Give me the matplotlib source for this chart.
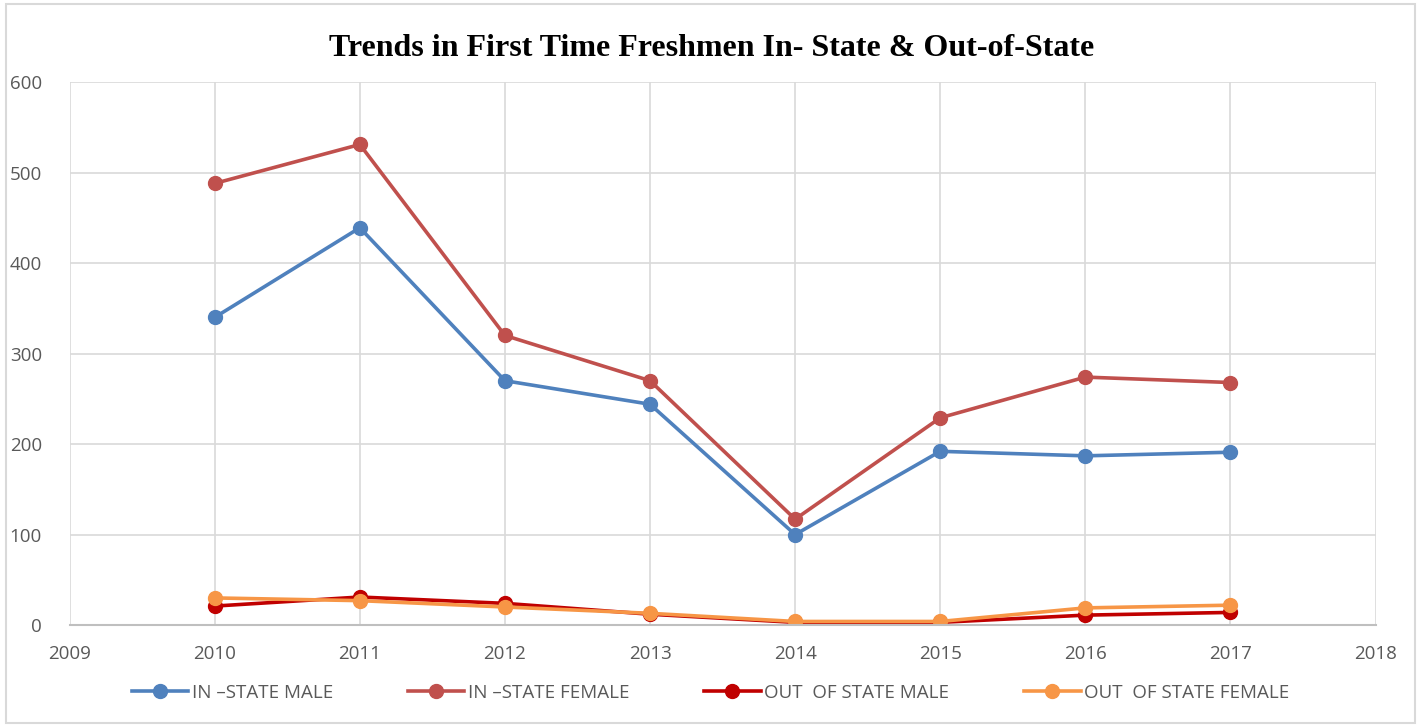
import matplotlib.pyplot as plt
from matplotlib.patches import Rectangle

years = [2010, 2011, 2012, 2013, 2014, 2015, 2016, 2017]
in_male = [340, 439, 270, 244, 100, 192, 187, 191]
in_female = [488, 531, 320, 270, 117, 229, 274, 268]
out_male = [21, 31, 24, 12, 3, 3, 11, 14]
out_female = [30, 27, 20, 13, 4, 4, 19, 22]

labels = ["IN \u2013STATE MALE", "IN \u2013STATE FEMALE", "OUT  OF STATE MALE", "OUT  OF STATE FEMALE"]
colors = ["#4f81bd", "#c0504d", "#c00000", "#f79646"]
series = [in_male, in_female, out_male, out_female]

fig = plt.figure(figsize=(14.21, 7.26), dpi=100)
ax = fig.add_axes([0.049, 0.139, 0.919, 0.748])

for vals, lab, c in zip(series, labels, colors):
    ax.plot(years, vals, color=c, lw=2.6, marker="o", ms=10, label=lab)

ax.set_xlim(2009, 2018)
ax.set_ylim(0, 600)
ax.set_xticks(range(2009, 2019))
ax.set_yticks(range(0, 601, 100))
ax.grid(True, color="#d9d9d9", lw=1.2)
ax.set_axisbelow(True)
for s in ["top", "right", "left"]:
    ax.spines[s].set_visible(False)
ax.spines["bottom"].set_color("#bfbfbf")
ax.spines["bottom"].set_linewidth(1.5)
ax.tick_params(length=0, labelsize=13.5, labelcolor="#595959")
ax.tick_params(axis="y", pad=20)
ax.tick_params(axis="x", pad=14)
for t in ax.get_xticklabels() + ax.get_yticklabels():
    t.set_fontfamily(["Open Sans", "DejaVu Sans"])

fig.text(0.501, 0.933, "Trends in First Time Freshmen In- State & Out-of-State",
         ha="center", va="center", fontsize=23, fontweight="bold",
         family=["Liberation Serif", "DejaVu Serif"])

leg = fig.legend(loc="center", bbox_to_anchor=(0.5, 0.046), ncol=4, frameon=False,
                 handlelength=3.0, columnspacing=4.0, handletextpad=0.2,
                 prop={"family": ["Open Sans", "DejaVu Sans"], "size": 13.5})
for t in leg.get_texts():
    t.set_color("#595959")

fig.patches.append(Rectangle((0.004, 0.004), 0.992, 0.99, transform=fig.transFigure,
                             fill=False, edgecolor="#d9d9d9", lw=1.5))

fig.savefig("out.png", dpi=100)
